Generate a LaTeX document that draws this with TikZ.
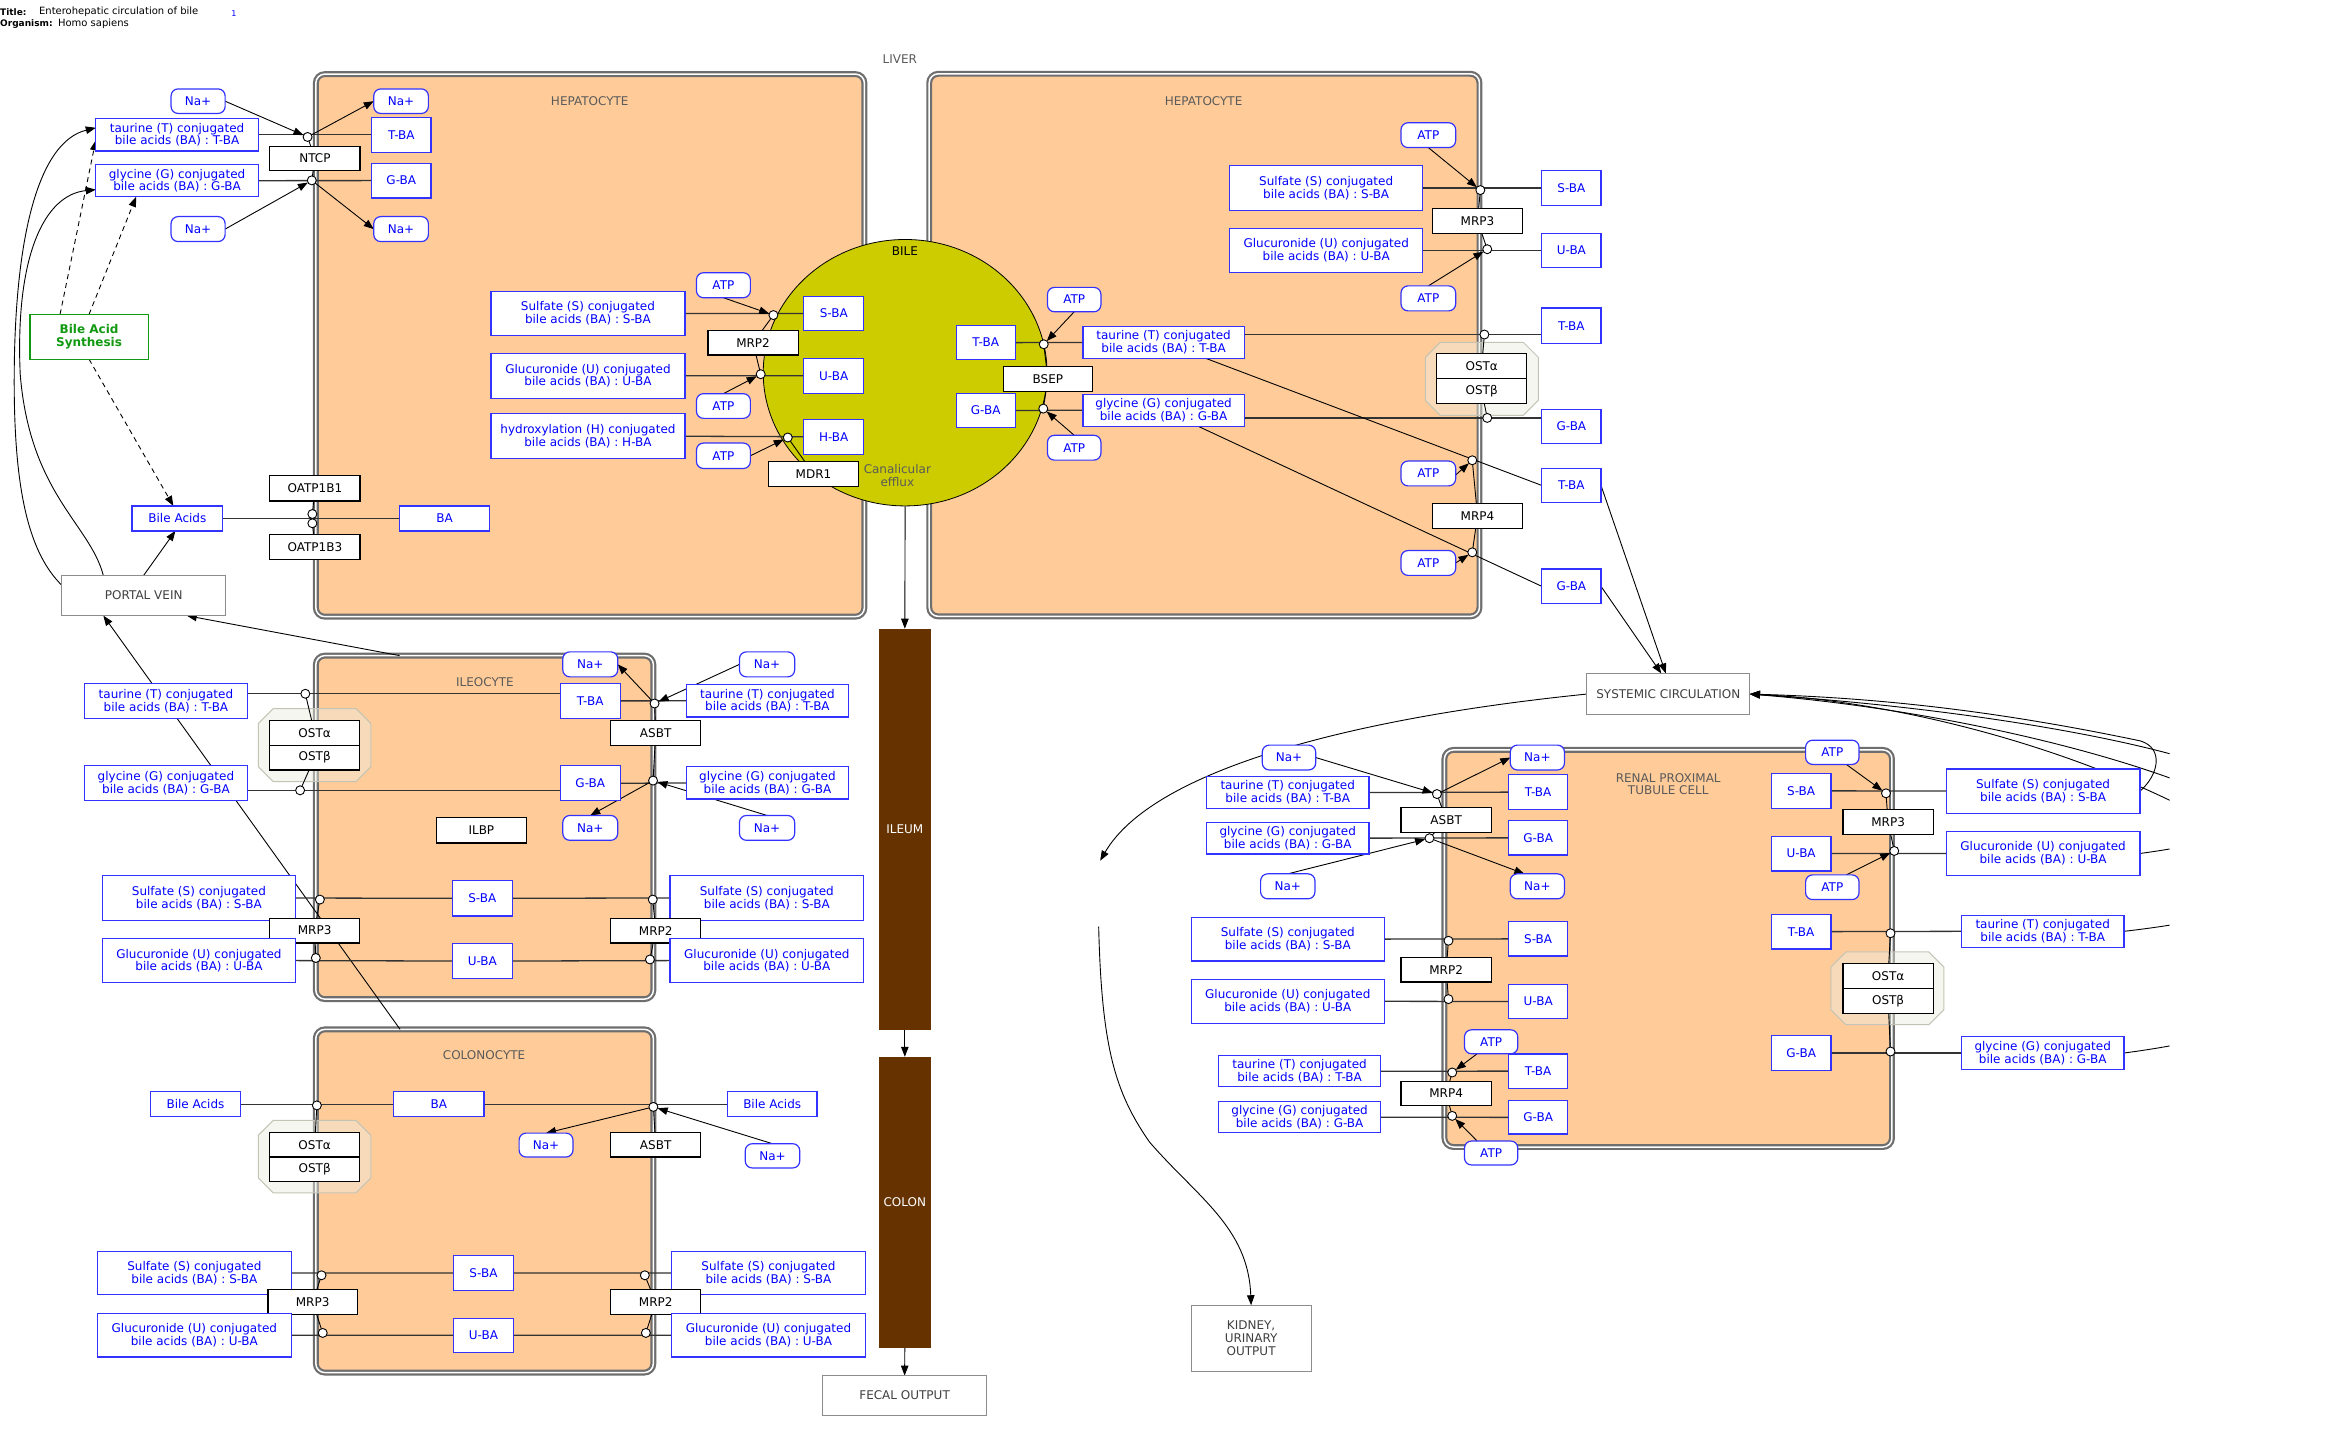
\documentclass[tikz,border=0pt]{standalone}
\usepackage{fontspec}
\setmainfont{DejaVu Sans}
\usetikzlibrary{arrows.meta,shapes.geometric}

\definecolor{cellfill}{HTML}{FFCC99}
\definecolor{cellgray}{HTML}{6E6E6E}
\definecolor{bilecol}{HTML}{CCCC00}
\definecolor{organcol}{HTML}{663300}
\definecolor{molblue}{HTML}{3333FF}
\definecolor{txtblue}{HTML}{0000FF}
\definecolor{labgray}{HTML}{5A5A5A}
\definecolor{hubgray}{HTML}{8C8C8C}
\definecolor{synthgreen}{HTML}{119911}
\definecolor{ostfillc}{HTML}{EDEDE2}
\definecolor{ostdraw}{HTML}{C4C4B6}

\pgfdeclarelayer{bg}
\pgfdeclarelayer{edges}
\pgfsetlayers{bg,edges,main}

\newcommand\fsz{\fontsize{12}{12.7}\selectfont}
\newcommand\hsz{\fontsize{10}{11}\selectfont}
% box from its corners: style, name, x1, y1, x2, y2, text
\newcommand\mkbox[7]{\node[#1,minimum width={1.4968*(#5-#3)*1pt},minimum height={1.4968*(#6-#4)*1pt}] (#2) at ({(#3+#5)/2},{(#4+#6)/2}) {#7};}
% transporter anchor on a membrane
\newcommand\mkanc[3]{\node[ancr] (#1) at (#2,#3) {};}
% chamfered frame around an OST complex
\newcommand\octa[4]{\draw[ostfill] ({#1+10},#2) -- ({#3-10},#2) -- (#3,{#2+10}) -- (#3,{#4-10}) -- ({#3-10},#4) -- ({#1+10},#4) -- (#1,{#4-10}) -- (#1,{#2+10}) -- cycle;}

\newcommand\tauT{taurine (T) conjugated\\bile acids (BA) : T-BA}
\newcommand\glyG{glycine (G) conjugated\\bile acids (BA) : G-BA}
\newcommand\sulS{Sulfate (S) conjugated\\bile acids (BA) : S-BA}
\newcommand\gluU{Glucuronide (U) conjugated\\bile acids (BA) : U-BA}

\tikzset{
  nb/.style={inner sep=0pt, outer sep=0pt, align=center, font=\fsz},
  mol/.style={nb, draw=molblue, text=txtblue, fill=white, line width=1.2pt},
  ion/.style={mol, rounded corners=7pt},
  prot/.style={nb, draw=black, fill=white, text=black, line width=1.2pt},
  hub/.style={nb, draw=hubgray, fill=white, text=black!75, line width=1pt},
  synthbox/.style={nb, draw=synthgreen, fill=white, text=synthgreen, font=\fsz\bfseries, line width=1.2pt},
  cell/.style={nb, draw=cellgray, double=white, double distance=1.5pt, line width=2.2pt, fill=cellfill, rounded corners=9pt},
  organ/.style={nb, fill=organcol, text=white},
  ancr/.style={circle, draw=black, fill=white, inner sep=0pt, outer sep=0pt, minimum size=9pt, line width=0.9pt},
  lbl/.style={nb, text=labgray},
  conn/.style={line width=0.9pt, draw=black},
  tport/.style={line width=1.3pt, draw=black!80},
  arr/.style={conn, -{Triangle[length=10pt,width=7.5pt]}},
  dsh/.style={arr, dash pattern=on 5pt off 4pt},
  ostfill/.style={fill=ostfillc, fill opacity=0.45, draw=ostdraw, line width=1pt},
}

\begin{document}
\begin{tikzpicture}[x=1.4968pt,y=-1.4968pt]
\useasboundingbox (0,0) rectangle (1568,955);

% ---------- compartments ----------
\begin{pgfonlayer}{bg}
\fill[white] (0,0) rectangle (1568,955);
\mkbox{cell}{hep1}{211}{49.5}{577.5}{412}{}
\mkbox{cell}{hep2}{620.8}{49.3}{988.4}{411.8}{}
\mkbox{cell}{ilec}{211}{438}{436.5}{667.5}{}
\mkbox{cell}{colc}{211}{687.7}{436.5}{917}{}
\mkbox{cell}{renc}{965}{501}{1264}{766.3}{}
\mkbox{ellipse, draw=black, line width=0.8pt, fill=bilecol, inner sep=0pt}{bile}{509.9}{160}{699.5}{338}{}
\octa{172.6}{473.4}{247.8}{522.2}
\octa{172.6}{748.5}{247.8}{797}
\octa{952.2}{228.7}{1027.7}{277.5}
\octa{1223.2}{636}{1298.6}{684.6}
\end{pgfonlayer}

% ---------- header ----------
\node[anchor=west, inner sep=0pt, font=\fontsize{9}{10}\selectfont\bfseries] (ttl) at (0,7.8) {Title:};
\node[anchor=west, inner sep=0pt, font=\hsz] (ttlv) at (26,7.8) {Enterohepatic circulation of bile};
\node[anchor=west, inner sep=0pt, font=\fontsize{8}{9}\selectfont, text=txtblue] (refn) at (154.5,8.9) {1};
\node[anchor=west, inner sep=0pt, font=\fontsize{9}{10}\selectfont\bfseries] (org) at (0,16) {Organism:};
\node[anchor=west, inner sep=0pt, font=\hsz] (orgv) at ([xshift=5pt]org.east) {Homo sapiens};

% ---------- labels ----------
\node[lbl] (liver) at (601.2,39.3) {LIVER};
\node[lbl] (hep1lbl) at (394,67.3) {HEPATOCYTE};
\node[lbl] (hep2lbl) at (804.1,67.3) {HEPATOCYTE};
\node[lbl] (ilelbl) at (324,455.7) {ILEOCYTE};
\node[lbl] (collbl) at (323.4,705) {COLONOCYTE};
\node[lbl] (renlbl) at (1114.5,523.8) {RENAL PROXIMAL\\TUBULE CELL};
\node[lbl, text=black] (bilelbl) at (604.6,168) {BILE};
\node[lbl] (canlbl) at (599.5,317.5) {Canalicular\\efflux};

% ---------- organs and sinks ----------
\mkbox{organ}{ileum}{587}{420}{622}{688}{ILEUM}
\mkbox{organ}{colon}{587}{706}{622}{900.5}{COLON}
\mkbox{hub}{pv}{41.4}{384.3}{150.7}{411.3}{PORTAL VEIN}
\mkbox{hub}{sc}{1060}{449.9}{1169.1}{477.5}{SYSTEMIC CIRCULATION}
\mkbox{hub}{fecal}{549.7}{919}{659}{945.5}{FECAL OUTPUT}
\mkbox{hub}{kidney}{795.8}{872}{875.9}{916.2}{KIDNEY,\\URINARY\\OUTPUT}
\mkbox{synthbox}{synth}{20}{210}{99}{240}{Bile Acid\\Synthesis}

% ---------- hepatocyte, uptake side ----------
\mkbox{ion}{naTL}{114.3}{59.4}{150.4}{75.8}{Na+}
\mkbox{mol}{tauL}{64}{79.2}{172.6}{100.9}{\tauT}
\mkbox{mol}{glyL}{64}{109.9}{172.6}{131.5}{\glyG}
\mkbox{ion}{naBL}{114.3}{144.7}{150.4}{161.4}{Na+}
\mkbox{ion}{naIT}{249.7}{59.4}{286.2}{75.8}{Na+}
\mkbox{mol}{tbaH}{248.2}{78.4}{288}{101.7}{T-BA}
\mkbox{mol}{gbaH}{248.2}{109}{288}{132.3}{G-BA}
\mkbox{ion}{naIB}{249.7}{144.7}{286.2}{161.4}{Na+}
\mkbox{prot}{ntcp}{180.3}{97.7}{240.5}{114.1}{NTCP}
\mkanc{c1}{205.5}{91.5}
\mkanc{c2}{208.3}{120.5}
\mkbox{prot}{oatp1}{180.3}{317.7}{240.5}{334.7}{OATP1B1}
\mkbox{mol}{baL}{88.2}{338}{148.8}{354.7}{Bile Acids}
\mkbox{mol}{baH}{267}{338}{327.2}{354.7}{BA}
\mkbox{prot}{oatp3}{180.3}{357}{240.5}{373.7}{OATP1B3}
\mkanc{cO1}{208.7}{343.4}
\mkanc{cO2}{208.7}{349.6}

% ---------- hepatocyte, canalicular side ----------
\mkbox{ion}{atpS}{465.3}{182.2}{501.3}{198.9}{ATP}
\mkbox{mol}{sulfH}{328}{194.7}{457.6}{224.2}{\sulS}
\mkbox{mol}{sbaB}{537}{198}{577}{221}{S-BA}
\mkbox{prot}{mrp2H}{473}{221}{533.2}{237.2}{MRP2}
\mkbox{mol}{glucH}{328}{236}{457.6}{266}{\gluU}
\mkbox{mol}{ubaB}{537}{239.3}{577}{262.8}{U-BA}
\mkbox{ion}{atpU}{465.3}{263}{501.3}{279.5}{ATP}
\mkbox{mol}{hydH}{328}{276.5}{457.6}{306.4}{hydroxylation (H) conjugated\\bile acids (BA) : H-BA}
\mkbox{mol}{hbaB}{537}{280}{577}{303.5}{H-BA}
\mkbox{ion}{atpH}{465.3}{296}{501.3}{313}{ATP}
\mkbox{prot}{mdr1}{513.2}{308.2}{573.8}{324.9}{MDR1}
\mkanc{cS}{516.7}{210.5}
\mkanc{cU}{508.2}{250}
\mkanc{cH}{526.3}{292.3}

% ---------- second hepatocyte ----------
\mkbox{ion}{atpB1}{699.8}{192}{735.5}{208.3}{ATP}
\mkbox{mol}{tbaBl}{638.8}{217.4}{678.3}{240.4}{T-BA}
\mkbox{mol}{tauIn}{723.5}{218}{831.3}{239.5}{\tauT}
\mkbox{prot}{bsep}{670.2}{244.8}{730}{261.4}{BSEP}
\mkbox{mol}{gbaBl}{638.8}{263}{678.3}{285.5}{G-BA}
\mkbox{mol}{glyIn}{723.5}{263.4}{831.3}{284.7}{\glyG}
\mkbox{ion}{atpB2}{699.8}{290.8}{735.5}{307.4}{ATP}
\mkanc{cBT}{697.3}{230}
\mkanc{cBG}{697}{273}

\mkbox{ion}{atpRa1}{936}{82}{972.5}{98.6}{ATP}
\mkbox{mol}{sulfR}{821.4}{110.8}{950.6}{140.4}{\sulS}
\mkbox{mol}{sbaO}{1030}{113.8}{1069.6}{137.4}{S-BA}
\mkbox{prot}{mrp3H}{957.2}{139.3}{1017}{155.9}{MRP3}
\mkbox{mol}{glucR}{821.4}{152.6}{950.6}{182.2}{\gluU}
\mkbox{mol}{ubaO}{1030}{155.9}{1069.6}{178.9}{U-BA}
\mkbox{ion}{atpRb1}{936}{191}{972.5}{207.7}{ATP}
\mkbox{mol}{tbaO}{1030}{205.8}{1069.6}{229.3}{T-BA}
\mkbox{prot}{ostHa}{959.8}{236.2}{1020}{252.8}{OSTα}
\mkbox{prot}{ostHb}{959.8}{252.8}{1020}{269.5}{OSTβ}
\mkbox{mol}{gbaO}{1030}{273.6}{1069.6}{296.3}{G-BA}
\mkbox{ion}{atpRc1}{936}{308}{972.5}{324.6}{ATP}
\mkbox{mol}{tbaF}{1030}{313}{1069.6}{335.6}{T-BA}
\mkbox{prot}{mrp4H}{957.2}{336.2}{1017}{353.1}{MRP4}
\mkbox{ion}{atpRd1}{936}{367.8}{972.5}{384.4}{ATP}
\mkbox{mol}{gbaF}{1030}{380.2}{1069.6}{403.2}{G-BA}
\mkanc{cRS}{989}{127}
\mkanc{cRU}{993.6}{166.5}
\mkanc{cRT}{991.7}{223.5}
\mkanc{cRG}{993.6}{279.2}
\mkanc{cM1}{983.6}{307.5}
\mkanc{cM2}{983.6}{369}

% ---------- ileocyte ----------
\mkbox{ion}{naIlT}{376}{435.5}{412.7}{452.2}{Na+}
\mkbox{ion}{naIlR}{494}{435.5}{530.9}{452.2}{Na+}
\mkbox{mol}{tauIl}{56.4}{456.7}{165.3}{480.1}{\tauT}
\mkbox{mol}{tbaI}{374.4}{456.4}{414.3}{480.1}{T-BA}
\mkbox{mol}{tauIr}{458.4}{457.4}{567}{479}{\tauT}
\mkbox{prot}{asbtI}{408.1}{481.5}{468}{497.8}{ASBT}
\mkbox{prot}{ostIa}{180.3}{481.5}{240.1}{497.8}{OSTα}
\mkbox{prot}{ostIb}{180.3}{497.8}{240.1}{514.4}{OSTβ}
\mkbox{mol}{glyIl}{56.4}{511.6}{165.3}{535}{\glyG}
\mkbox{mol}{gbaI}{374.4}{511.6}{414.3}{535}{G-BA}
\mkbox{mol}{glyIr}{458.4}{512.3}{567}{533.8}{\glyG}
\mkbox{prot}{ilbp}{291.5}{546.2}{351.7}{563.2}{ILBP}
\mkbox{ion}{naIlB}{376}{544.8}{412.7}{561.4}{Na+}
\mkbox{ion}{naIrB}{494}{544.8}{530.9}{561.4}{Na+}
\mkbox{mol}{sulfIl}{68.3}{585.1}{197.5}{614.8}{\sulS}
\mkbox{mol}{sbaI}{302.3}{588.3}{342.2}{612}{S-BA}
\mkbox{mol}{sulfIr}{447.6}{585}{577}{614.8}{\sulS}
\mkbox{prot}{mrp3I}{180.3}{613.4}{240.1}{630}{MRP3}
\mkbox{prot}{mrp2I}{408.1}{613.4}{468}{630}{MRP2}
\mkbox{mol}{glucIl}{68.3}{626.9}{197.5}{656.6}{\gluU}
\mkbox{mol}{ubaI}{302.3}{630.4}{342.2}{653.7}{U-BA}
\mkbox{mol}{glucIr}{447.6}{626.9}{577}{656.6}{\gluU}
\mkanc{cI1}{204}{463.5}
\mkanc{cI2}{200.5}{528}
\mkanc{cI3}{437.3}{470}
\mkanc{cI4}{436.3}{521.5}
\mkanc{cI5}{213.7}{601}
\mkanc{cI6}{436.1}{601}
\mkanc{cI7}{211}{640}
\mkanc{cI8}{434.2}{641}

% ---------- colonocyte ----------
\mkbox{mol}{baCl}{100.5}{729.4}{160.7}{746}{Bile Acids}
\mkbox{mol}{baC}{263.1}{729.4}{323.4}{746}{BA}
\mkbox{mol}{baCr}{486}{729.4}{545.8}{746}{Bile Acids}
\mkbox{ion}{naCi}{346.8}{757}{382.8}{773}{Na+}
\mkbox{prot}{asbtC}{408.1}{756.6}{468}{773}{ASBT}
\mkbox{ion}{naCr}{497.9}{764.1}{534.3}{780.3}{Na+}
\mkbox{prot}{ostCa}{180.3}{756.6}{240.1}{773}{OSTα}
\mkbox{prot}{ostCb}{180.3}{773}{240.1}{789.6}{OSTβ}
\mkbox{mol}{sulfCl}{65.2}{835.9}{194.5}{864.9}{\sulS}
\mkbox{mol}{sbaC}{303}{839}{343}{862}{S-BA}
\mkbox{mol}{sulfCr}{448.8}{835.9}{578}{864.9}{\sulS}
\mkbox{prot}{mrp3C}{179.1}{861.7}{238.6}{878.3}{MRP3}
\mkbox{prot}{mrp2C}{408.1}{861.7}{468}{878.3}{MRP2}
\mkbox{mol}{glucCl}{65.2}{877.6}{194.5}{906.6}{\gluU}
\mkbox{mol}{ubaC}{303}{880.8}{343}{903.4}{U-BA}
\mkbox{mol}{glucCr}{448.8}{877.6}{578}{906.6}{\gluU}
\mkanc{cC1}{211.7}{738.5}
\mkanc{cC2}{436.5}{739.5}
\mkanc{cC3}{214.8}{852}
\mkanc{cC4}{430.8}{852}
\mkanc{cC5}{215.6}{890.5}
\mkanc{cC6}{431.5}{890.5}

% ---------- renal proximal tubule cell ----------
\mkbox{ion}{naRlT}{843.3}{497.8}{879}{514.4}{Na+}
\mkbox{mol}{tauRl}{806}{518.7}{914.6}{540.3}{\tauT}
\mkbox{mol}{glyRl}{806}{549.3}{914.6}{570.6}{\glyG}
\mkbox{ion}{naRlB}{842.2}{583.8}{878.5}{600.5}{Na+}
\mkbox{ion}{naRiT}{1009}{497.8}{1045.2}{514.4}{Na+}
\mkbox{mol}{tbaR}{1008}{517.4}{1047.2}{541}{T-BA}
\mkbox{prot}{asbtR}{936}{539.3}{996.3}{556}{ASBT}
\mkbox{mol}{gbaR}{1008}{548.3}{1047.2}{571.2}{G-BA}
\mkbox{ion}{naRiB}{1009}{583.8}{1045.2}{600.5}{Na+}
\mkbox{mol}{sulfRl}{795.8}{612.8}{924.9}{642}{\sulS}
\mkbox{mol}{sbaR}{1008}{615.8}{1047.2}{638.7}{S-BA}
\mkbox{prot}{mrp2R}{936}{639.7}{996.3}{656}{MRP2}
\mkbox{mol}{glucRl}{795.8}{654.3}{924.9}{683.6}{\gluU}
\mkbox{mol}{ubaR}{1008}{657.6}{1047.2}{680.6}{U-BA}
\mkbox{ion}{atpRa}{978.4}{688}{1014}{704}{ATP}
\mkbox{mol}{tauRl2}{814.2}{705.2}{922.3}{726.1}{\tauT}
\mkbox{mol}{tbaR2}{1008}{704.2}{1047.2}{727}{T-BA}
\mkbox{prot}{mrp4R}{936}{722.4}{996.3}{738.7}{MRP4}
\mkbox{mol}{glyRl2}{814.2}{736}{922.3}{756.7}{\glyG}
\mkbox{mol}{gbaR2}{1008}{735.4}{1047.2}{757.6}{G-BA}
\mkbox{ion}{atpRb}{978.4}{762.3}{1014}{778.3}{ATP}
\mkbox{ion}{atpRc}{1206.3}{494.5}{1242}{510.7}{ATP}
\mkbox{mol}{sbaRr}{1183.4}{516.7}{1223.2}{540}{S-BA}
\mkbox{mol}{sulfRr}{1300.2}{513.7}{1429.7}{543.3}{\sulS}
\mkbox{prot}{mrp3R}{1231.3}{541}{1291.5}{557.6}{MRP3}
\mkbox{mol}{ubaRr}{1183.4}{558.6}{1223.2}{581.9}{U-BA}
\mkbox{mol}{glucRr}{1300.2}{555.6}{1429.7}{584.8}{\gluU}
\mkbox{ion}{atpRd}{1206.3}{584.5}{1242}{601}{ATP}
\mkbox{mol}{tbaRr}{1183.4}{610.8}{1223.2}{634}{T-BA}
\mkbox{mol}{tauRr}{1310.4}{611.4}{1419}{633}{\tauT}
\mkbox{prot}{ostRa}{1231.3}{643.7}{1291.5}{660.3}{OSTα}
\mkbox{prot}{ostRb}{1231.3}{660.3}{1291.5}{677.2}{OSTβ}
\mkbox{mol}{gbaRr}{1183.4}{691.9}{1223.2}{715.1}{G-BA}
\mkbox{mol}{glyRr}{1310.4}{692.5}{1419}{714.5}{\glyG}
\mkanc{cR1}{960}{530.5}
\mkanc{cR2}{955}{560}
\mkanc{cR3}{967.7}{628.5}
\mkanc{cR4}{967.7}{667.5}
\mkanc{cR5}{970.2}{716.5}
\mkanc{cR6}{970.2}{745.5}
\mkanc{cR7}{1260}{530}
\mkanc{cR8}{1265.5}{568.5}
\mkanc{cR9}{1263}{623.5}
\mkanc{cR10}{1263}{702.5}

\coordinate (urnEnd) at (735,575);
\coordinate (urnStart) at (734,619);

% ---------- connectors ----------
\begin{pgfonlayer}{edges}
% circulation
\draw[arr] (bile.south) -- (ileum.north);
\draw[arr] (ileum.south) -- (colon.north);
\draw[arr] (colon.south) -- (fecal.north);
\draw[arr] ([yshift=10pt]pv.west) .. controls (20,370) and (9,330) .. (9.5,250) .. controls (10,160) and (25,95) .. ([yshift=7pt]tauL.west);
\draw[arr] ([xshift=-40.5pt]pv.north) .. controls (60,350) and (20,330) .. (13.5,250) .. controls (10,170) and (30,130) .. ([yshift=-9pt]glyL.west);
\draw[arr] (pv.north) -- ([xshift=-2pt]baL.south);
\draw[dsh] ([xshift=-29pt]synth.north) -- ([yshift=-5.5pt]tauL.west);
\draw[dsh] (synth.north) -- ([xshift=-41pt]glyL.south);
\draw[dsh] (synth.south) -- ([xshift=-4pt]baL.north);
\draw[arr] ([xshift=-84.5pt]colc.north) -- ([xshift=-40.4pt]pv.south);
\draw[arr] ([xshift=-85pt]ilec.north) -- ([xshift=43pt]pv.south);
\draw[arr] (tbaF.east) -- ([xshift=-2.5pt]sc.north);
\draw[arr] (gbaF.east) -- ([xshift=-7pt]sc.north);
\draw[arr] (sc.west) .. controls (900,480) and (770,515) .. (urnEnd);
\draw[arr] (urnStart) .. controls (736,700) and (745,730) .. (768,763) .. controls (800,800) and (834,820) .. (kidney.north);
\begin{scope}
\clip (0,0) rectangle (1449.5,955);
\draw[arr] (sulfRr.east) .. controls (1442,518) and (1446,500) .. (1430,495) .. controls (1330,474) and (1250,466) .. (sc.east);
\draw[arr] (glucRr.east) .. controls (1650,540) and (1420,480) .. (sc.east);
\draw[arr] (tauRr.east) .. controls (1700,590) and (1420,484) .. (sc.east);
\draw[arr] (glyRr.east) .. controls (1750,660) and (1420,476) .. (sc.east);
\end{scope}

% hepatocyte uptake
\draw[tport] (tauL.east) -- (tbaH.west);
\draw[tport] (glyL.east) -- (gbaH.west);
\draw[arr] (naTL.east) -- (c1);
\draw[arr] (c1) -- (naIT.west);
\draw[arr] (naBL.east) -- (c2);
\draw[arr] (c2) -- (naIB.west);
\draw[conn] (ntcp) -- (c1);
\draw[conn] (ntcp) -- (c2);
\draw[tport] (baL.east) -- (baH.west);
\draw[conn] (oatp1) -- (cO1);
\draw[conn] (oatp3) -- (cO2);

% hepatocyte canalicular export
\draw[tport] (sulfH.east) -- (sbaB.west);
\draw[tport] (glucH.east) -- (ubaB.west);
\draw[tport] (hydH.east) -- (hbaB.west);
\draw[arr] (atpS.south) -- (cS);
\draw[arr] (atpU.north) -- (cU);
\draw[arr] (atpH.east) -- (cH);
\draw[conn] (mrp2H) -- (cS);
\draw[conn] (mrp2H) -- (cU);
\draw[conn] (mdr1) -- (cH);

% second hepatocyte
\draw[tport] (tbaBl.east) -- (tauIn.west);
\draw[tport] (gbaBl.east) -- (glyIn.west);
\draw[arr] (atpB1.south) -- (cBT);
\draw[arr] (atpB2.north) -- (cBG);
\draw[conn] (bsep) -- (cBT);
\draw[conn] (bsep) -- (cBG);
\draw[tport] (sulfR.east) -- (sbaO.west);
\draw[tport] (glucR.east) -- (ubaO.west);
\draw[arr] (atpRa1.south) -- (cRS);
\draw[arr] (atpRb1.north) -- (cRU);
\draw[conn] (mrp3H) -- (cRS);
\draw[conn] (mrp3H) -- (cRU);
\draw[tport] (tauIn.east |- cRT) -- (tbaO.west |- cRT);
\draw[tport] (glyIn.east |- cRG) -- (gbaO.west |- cRG);
\draw[conn] (cRT) -- (ostHa);
\draw[conn] (cRG) -- (ostHb);
\draw[conn] (tauIn) -- (tbaF.west);
\draw[conn] (glyIn) -- (gbaF.west);
\draw[arr] ([xshift=15pt]atpRc1.south) -- (cM1);
\draw[arr] (atpRd1.east) -- (cM2);
\draw[conn] (mrp4H) -- (cM1);
\draw[conn] (mrp4H) -- (cM2);

% ileocyte
\draw[tport] (tauIl.east |- cI1) -- (tbaI.west |- cI1);
\draw[tport] (glyIl.east |- cI2) -- (gbaI.west |- cI2);
\draw[conn] (cI1) -- (ostIa);
\draw[conn] (cI2) -- (ostIb);
\draw[tport] (tbaI.east) -- (tauIr.west);
\draw[tport] (gbaI.east) -- (glyIr.west);
\draw[arr] (naIlR.west) -- (cI3);
\draw[arr] (cI3) -- (naIlT.east);
\draw[arr] (naIrB.north) -- (cI4);
\draw[arr] (cI4) -- (naIlB.north);
\draw[conn] (asbtI) -- (cI3);
\draw[conn] (asbtI) -- (cI4);
\draw[tport] (sulfIl.east) -- (sbaI.west);
\draw[tport] (sbaI.east) -- (sulfIr.west);
\draw[tport] (glucIl.east) -- (ubaI.west);
\draw[tport] (ubaI.east) -- (glucIr.west);
\draw[conn] (mrp3I) -- (cI5);
\draw[conn] (mrp3I) -- (cI7);
\draw[conn] (mrp2I) -- (cI6);
\draw[conn] (mrp2I) -- (cI8);

% colonocyte
\draw[tport] (baCl.east) -- (baC.west);
\draw[tport] (baC.east) -- (baCr.west);
\draw[conn] (cC1) -- (ostCa);
\draw[arr] (naCr.north) -- (cC2);
\draw[arr] (cC2) -- (naCi.north);
\draw[conn] (asbtC) -- (cC2);
\draw[tport] (sulfCl.east) -- (sbaC.west);
\draw[tport] (sbaC.east) -- (sulfCr.west);
\draw[tport] (glucCl.east) -- (ubaC.west);
\draw[tport] (ubaC.east) -- (glucCr.west);
\draw[conn] (mrp3C) -- (cC3);
\draw[conn] (mrp3C) -- (cC5);
\draw[conn] (mrp2C) -- (cC4);
\draw[conn] (mrp2C) -- (cC6);

% renal cell
\draw[tport] (tauRl.east) -- (tbaR.west);
\draw[tport] (glyRl.east) -- (gbaR.west);
\draw[arr] (naRlT.east) -- (cR1);
\draw[arr] (cR1) -- (naRiT.west);
\draw[arr] (naRlB.north) -- (cR2);
\draw[arr] (cR2) -- ([xshift=-13pt]naRiB.north);
\draw[conn] (asbtR) -- (cR1);
\draw[conn] (asbtR) -- (cR2);
\draw[tport] (sulfRl.east) -- (sbaR.west);
\draw[tport] (glucRl.east) -- (ubaR.west);
\draw[conn] (mrp2R) -- (cR3);
\draw[conn] (mrp2R) -- (cR4);
\draw[tport] (tauRl2.east) -- (tbaR2.west);
\draw[tport] (glyRl2.east) -- (gbaR2.west);
\draw[arr] ([xshift=-14pt]atpRa.south) -- (cR5);
\draw[arr] ([xshift=-14pt]atpRb.north) -- (cR6);
\draw[conn] (mrp4R) -- (cR5);
\draw[conn] (mrp4R) -- (cR6);
\draw[tport] (sbaRr.east) -- (sulfRr.west);
\draw[tport] (ubaRr.east) -- (glucRr.west);
\draw[arr] ([xshift=14pt]atpRc.south) -- (cR7);
\draw[arr] ([xshift=14pt]atpRd.north) -- (cR8);
\draw[conn] (mrp3R) -- (cR7);
\draw[conn] (mrp3R) -- (cR8);
\draw[tport] (tbaRr.east) -- (tauRr.west);
\draw[tport] (gbaRr.east) -- (glyRr.west);
\draw[conn] (cR9) -- (ostRa);
\draw[conn] (cR10) -- (ostRb);
\end{pgfonlayer}
\end{tikzpicture}
\end{document}
